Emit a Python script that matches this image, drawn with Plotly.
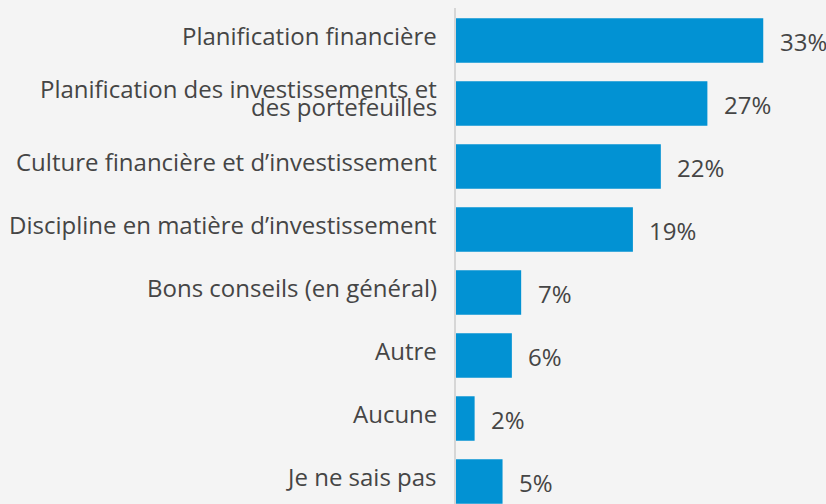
import plotly.graph_objects as go

categories = [
    "Planification financière",
    "Planification des investissements et des portefeuilles",
    "Culture financière et d’investissement",
    "Discipline en matière d’investissement",
    "Bons conseils (en général)",
    "Autre",
    "Aucune",
    "Je ne sais pas",
]
values = [33, 27, 22, 19, 7, 6, 2, 5]
value_labels = ["33%", "27%", "22%", "19%", "7%", "6%", "2%", "5%"]
# category labels as displayed (the second one wraps onto two lines)
label_lines = [
    ["Planification financière"],
    ["Planification des investissements et", "des portefeuilles"],
    ["Culture financière et d’investissement"],
    ["Discipline en matière d’investissement"],
    ["Bons conseils (en général)"],
    ["Autre"],
    ["Aucune"],
    ["Je ne sais pas"],
]

BAR = "#0292d3"
TXT = "#454545"
FONT = "Open Sans"
FS = 24

fig = go.Figure()
fig.add_trace(go.Bar(
    x=values,
    y=list(range(len(categories))),
    orientation="h",
    marker=dict(color=BAR, line=dict(width=0)),
    width=0.706,
    hoverinfo="skip",
    name="",
))

annotations = []
for i, (v, t) in enumerate(zip(values, value_labels)):
    annotations.append(dict(
        x=v, y=i, xref="x", yref="y", text=t, showarrow=False,
        xanchor="left", yanchor="middle", xshift=14.5, yshift=-1,
        font=dict(family=FONT, size=FS, color=TXT),
    ))

for i, lines in enumerate(label_lines):
    if len(lines) == 1:
        shifts = [5]
    else:
        shifts = [15, -3]
    for line, ys in zip(lines, shifts):
        annotations.append(dict(
            x=0, y=i, xref="x", yref="y", text=line, showarrow=False,
            xanchor="right", yanchor="middle", xshift=-17.5, yshift=ys,
            font=dict(family=FONT, size=FS, color=TXT),
        ))

fig.update_layout(
    width=826, height=504,
    margin=dict(l=456, r=0, t=8, b=0),
    paper_bgcolor="#f4f4f4",
    plot_bgcolor="#f4f4f4",
    showlegend=False,
    font=dict(family=FONT, size=FS, color=TXT),
    xaxis=dict(range=[0, 39.74], visible=False, fixedrange=True),
    yaxis=dict(
        range=[7.357, -0.516],
        tickmode="array",
        tickvals=list(range(len(categories))),
        ticktext=categories,
        showticklabels=False,
        showgrid=False, zeroline=False,
        showline=True, linecolor="#d6d6d6", linewidth=2,
        ticks="",
        fixedrange=True,
    ),
    annotations=annotations,
)

fig.write_html(
    "out.html",
    config={"displayModeBar": False},
    post_script="document.body.style.margin='0';",
)
